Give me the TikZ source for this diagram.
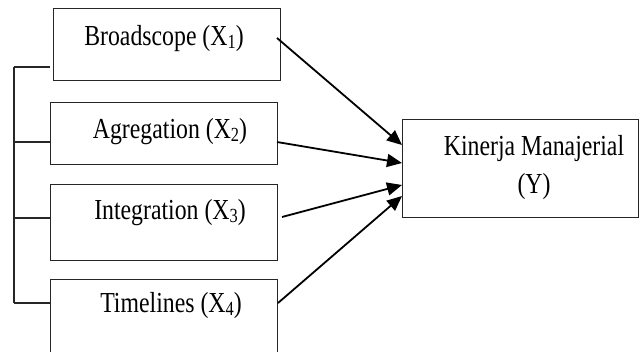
\documentclass[tikz,border=0pt]{standalone}
\usepackage{fontspec}
\setmainfont{Liberation Serif}[FakeStretch=0.82]
\usetikzlibrary{arrows.meta}
\newcommand{\lowsub}[1]{{\fontsize{20}{20}\selectfont\raisebox{-2.5pt}{#1}}}
\begin{document}
\begin{tikzpicture}[x=1pt,y=-1pt,
  box/.style={draw=black!85, line width=1.4pt, minimum width=227pt, inner sep=0pt, anchor=north west},
  lbl/.style={font=\fontsize{29}{38}\selectfont, inner sep=0pt},
  arr/.style={draw=black, line width=1.8pt, -{Triangle[length=15pt,width=13pt]}},
  brk/.style={draw=black!85, line width=1.4pt}]
\useasboundingbox (0,0) rectangle (639,351);
\clip (0,0) rectangle (639,351);
% boxes
\node[box, minimum height=72pt] (b1) at (53,8) {};
\node[box, minimum height=62pt] (b2) at (50,102) {};
\node[box, minimum height=76pt] (b3) at (50,184) {};
\node[box, minimum height=100pt] (b4) at (50,279) {};
\node[box, minimum width=236pt, minimum height=98pt] (y) at (402,119) {};
% texts
\node[lbl] (t1) at (164,39) {Broadscope (X\lowsub{1})};
\node[lbl] (t2) at (170,132) {Agregation (X\lowsub{2})};
\node[lbl] (t3) at (170,213) {Integration (X\lowsub{3})};
\node[lbl] (t4) at (171,306) {Timelines (X\lowsub{4})};
\node[lbl, align=center] (ty) at (534,168) {Kinerja Manajerial\\(Y)};
% bracket
\coordinate (k1) at (14,67);
\coordinate (k2) at (14,142);
\coordinate (k3) at (14,218);
\coordinate (k4) at (14,303);
\coordinate (e1) at (50,67);
\draw[brk] (k1) -- (k4);
\draw[brk] (k1) -- (e1);
\draw[brk] (k2) -- (b2.west |- k2);
\draw[brk] (k3) -- (b3.west |- k3);
\draw[brk] (k4) -- (b4.west |- k4);
% arrows
\coordinate (s1) at (277,38);
\coordinate (s2) at (277,142);
\coordinate (s3) at (282,217);
\coordinate (s4) at (278,303);
\coordinate (d1) at (402,145);
\coordinate (d2) at (402,163);
\coordinate (d3) at (402,185);
\coordinate (d4) at (402,196);
\draw[arr] (s1) -- (d1);
\draw[arr] (s2) -- (d2);
\draw[arr] (s3) -- (d3);
\draw[arr] (s4) -- (d4);
\end{tikzpicture}
\end{document}
